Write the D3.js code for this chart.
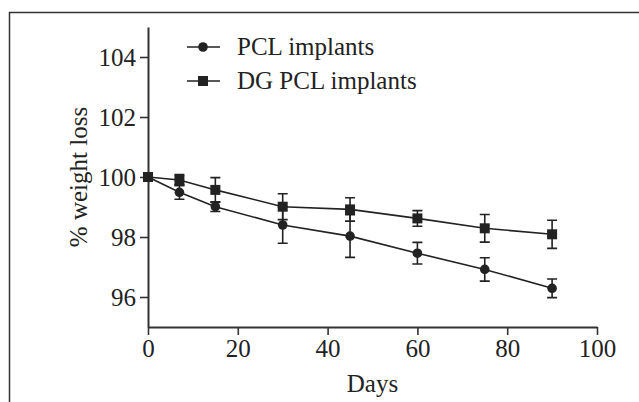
<!DOCTYPE html>
<html>
<head>
<meta charset="utf-8">
<script src="https://cdn.jsdelivr.net/npm/d3@7"></script>
<style>
  body { margin: 0; background: #fff; }
  svg text { font-family: "Liberation Serif", "Times New Roman", serif; fill: #222; }
</style>
</head>
<body>
<div id="chart"></div>
<script>
const days = [0, 7, 15, 30, 45, 60, 75, 90];
const pclMean = [100, 99.49, 99.01, 98.40, 98.03, 97.46, 96.92, 96.29];
const pclErr = [0, 0.23, 0.16, 0.61, 0.71, 0.36, 0.39, 0.31];
const dgMean = [100, 99.90, 99.57, 99.01, 98.92, 98.62, 98.29, 98.09];
const dgErr = [0, 0.18, 0.41, 0.43, 0.39, 0.26, 0.46, 0.47];
const xTicks = [0, 20, 40, 60, 80, 100];
const yTicks = [96, 98, 100, 102, 104];
const seriesNames = ['PCL implants', 'DG PCL implants'];

const width = 639, height = 402;
const ink = '#222';

const svg = d3.select('#chart').append('svg')
  .attr('width', width)
  .attr('height', height);

// outer frame (only top and left edges visible)
svg.append('path')
  .attr('d', `M9.5,${height}V12.5H${width}`)
  .attr('fill', 'none')
  .attr('stroke', '#333')
  .attr('stroke-width', 1.5);

const x = d3.scaleLinear().domain([0, 100]).range([148, 597]);
const y = d3.scaleLinear().domain([95, 105]).range([327, 27]);

const xAxis = svg.append('g')
  .attr('transform', `translate(0,${y(95)})`)
  .call(d3.axisBottom(x).tickValues(xTicks).tickSize(8).tickPadding(4).tickSizeOuter(0));

const yAxis = svg.append('g')
  .attr('transform', `translate(${x(0)},0)`)
  .call(d3.axisLeft(y).tickValues(yTicks).tickSize(8).tickPadding(4).tickSizeOuter(0));

[xAxis, yAxis].forEach(g => {
  g.select('.domain').attr('stroke', '#333').attr('stroke-width', 2);
  g.selectAll('.tick line').attr('stroke', '#333').attr('stroke-width', 1.6);
  g.selectAll('.tick text')
    .attr('fill', ink)
    .style('font-family', '"Liberation Serif", serif')
    .style('font-size', '25px');
});

svg.append('text')
  .attr('x', x(50))
  .attr('y', 392)
  .attr('text-anchor', 'middle')
  .style('font-size', '25px')
  .text('Days');

svg.append('text')
  .attr('transform', `translate(87,${y(100)}) rotate(-90)`)
  .attr('text-anchor', 'middle')
  .style('font-size', '25px')
  .text('% weight loss');

const series = [
  { name: seriesNames[0], mean: pclMean, err: pclErr, shape: 'circle' },
  { name: seriesNames[1], mean: dgMean, err: dgErr, shape: 'square' }
];

const line = d3.line().x(d => x(d.day)).y(d => y(d.v));

function drawSymbol(g, shape, cx, cy) {
  if (shape === 'circle') {
    g.append('circle').attr('cx', cx).attr('cy', cy).attr('r', 4.8).attr('fill', ink);
  } else {
    g.append('rect').attr('x', cx - 5).attr('y', cy - 5).attr('width', 10).attr('height', 10).attr('fill', ink);
  }
}

series.forEach(s => {
  const pts = days.map((d, i) => ({ day: d, v: s.mean[i], e: s.err[i] }));
  const g = svg.append('g');

  g.append('path')
    .datum(pts)
    .attr('d', line)
    .attr('fill', 'none')
    .attr('stroke', ink)
    .attr('stroke-width', 1.6);

  pts.filter(p => p.e > 0).forEach(p => {
    const px = x(p.day), y1 = y(p.v + p.e), y2 = y(p.v - p.e);
    g.append('path')
      .attr('d', `M${px},${y1}V${y2}M${px - 5},${y1}H${px + 5}M${px - 5},${y2}H${px + 5}`)
      .attr('stroke', ink)
      .attr('stroke-width', 1.6)
      .attr('fill', 'none');
  });

  pts.forEach(p => drawSymbol(g, s.shape, x(p.day), y(p.v)));
});

// legend
const legend = svg.append('g');
series.forEach((s, i) => {
  const ly = 47 + i * 34;
  legend.append('line')
    .attr('x1', 187).attr('x2', 220)
    .attr('y1', ly).attr('y2', ly)
    .attr('stroke', ink).attr('stroke-width', 1.6);
  drawSymbol(legend, s.shape, 203, ly);
  legend.append('text')
    .attr('x', 237)
    .attr('y', ly + 8)
    .style('font-size', '25px')
    .text(s.name);
});
</script>
</body>
</html>
